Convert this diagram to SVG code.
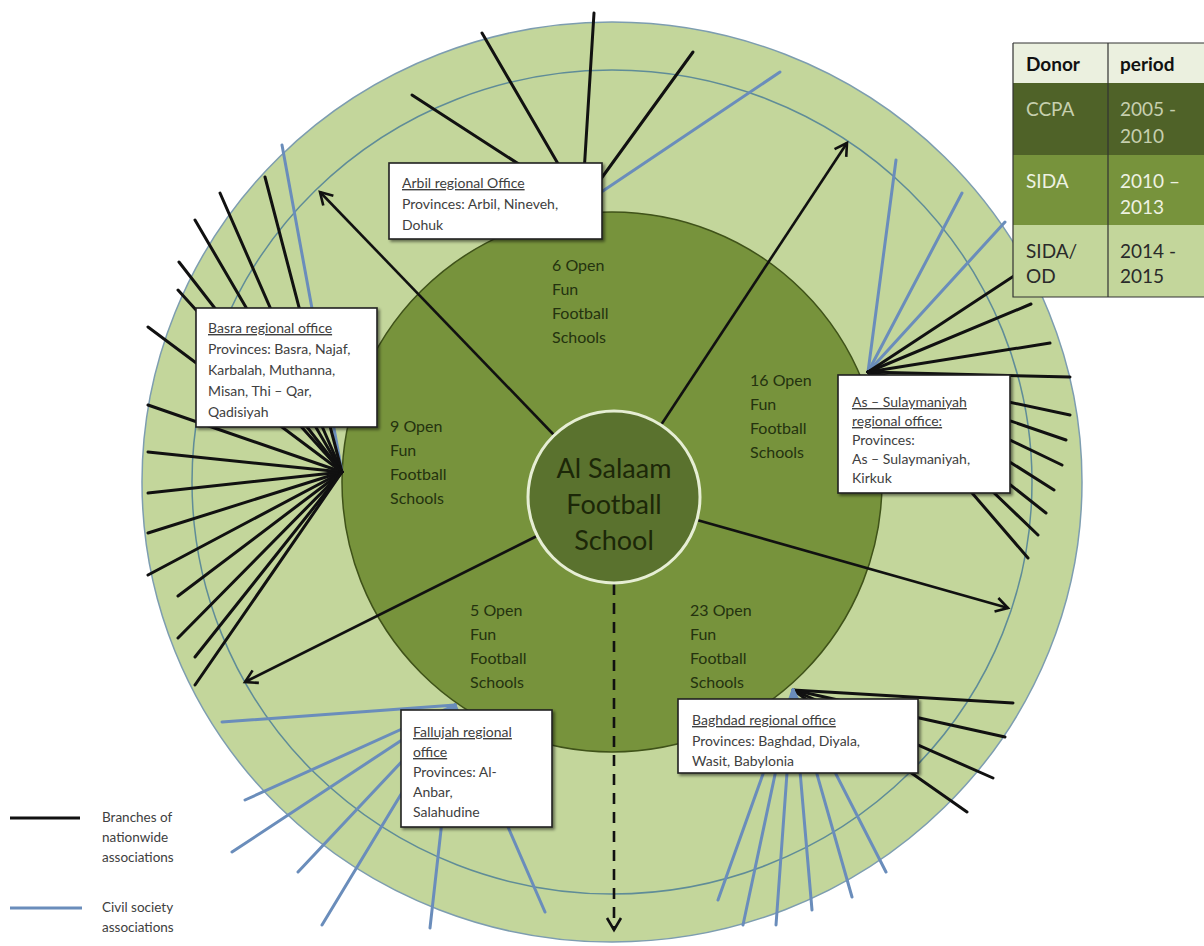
<svg xmlns="http://www.w3.org/2000/svg" width="1204" height="946" viewBox="0 0 1204 946">
<defs>
<marker id="ah" markerUnits="userSpaceOnUse" markerWidth="18" markerHeight="18" viewBox="0 0 18 18" refX="15" refY="9" orient="auto">
<path d="M3,2 L15,9 L3,16" fill="none" stroke="#111" stroke-width="2.6"/>
</marker>
<filter id="sh" x="-10%" y="-10%" width="130%" height="130%">
<feGaussianBlur in="SourceAlpha" stdDeviation="1.5"/>
<feOffset dx="2" dy="2"/>
<feComponentTransfer><feFuncA type="linear" slope="0.5"/></feComponentTransfer>
<feMerge><feMergeNode/><feMergeNode in="SourceGraphic"/></feMerge>
</filter>
</defs>
<style>
text{font-family:Lato,"Liberation Sans",sans-serif}
.bl{stroke:#111;stroke-width:3;fill:none;stroke-linecap:round}
.bu{stroke:#6a8dbb;stroke-width:3;fill:none;stroke-linecap:round}
.arr{stroke:#111;stroke-width:2.6;fill:none}
.box{fill:#fff;stroke:#222;stroke-width:1.6}
.bt{font-size:14px;fill:#404040}
.u{text-decoration:underline}
.seg{font-size:16px;fill:#24320f}
.tb{font-size:19px}
</style>
<rect width="1204" height="946" fill="#fff"/>
<g id="rings">
<ellipse cx="612" cy="482" rx="470" ry="460" fill="#c3d69b" stroke="#7d9db0" stroke-width="1.5"/>
<ellipse cx="612" cy="482" rx="420" ry="412" fill="none" stroke="#5f8c98" stroke-width="1.5"/>
<circle cx="612" cy="482" r="270" fill="#77933c" stroke="#3f5219" stroke-width="1.5"/>
</g>
<g id="connectors">
<g id="fan-arbil">
<line class="bl" x1="582" y1="205" x2="412" y2="95"/>
<line class="bl" x1="582" y1="205" x2="482" y2="33"/>
<line class="bl" x1="582" y1="205" x2="594" y2="13"/>
<line class="bl" x1="582" y1="205" x2="693" y2="52"/>
<line class="bu" x1="582" y1="205" x2="780" y2="72"/>
</g>
<g id="fan-basra">
<line class="bu" x1="342" y1="472" x2="282" y2="145"/>
<line class="bl" x1="342" y1="472" x2="265" y2="177"/>
<line class="bl" x1="342" y1="472" x2="220" y2="193"/>
<line class="bl" x1="342" y1="472" x2="195" y2="220"/>
<line class="bl" x1="342" y1="472" x2="179" y2="262"/>
<line class="bl" x1="342" y1="472" x2="178" y2="290"/>
<line class="bl" x1="342" y1="472" x2="148" y2="327"/>
<line class="bl" x1="342" y1="472" x2="148" y2="405"/>
<line class="bl" x1="342" y1="472" x2="148" y2="452"/>
<line class="bl" x1="342" y1="472" x2="148" y2="493"/>
<line class="bl" x1="342" y1="472" x2="148" y2="533"/>
<line class="bl" x1="342" y1="472" x2="148" y2="575"/>
<line class="bl" x1="342" y1="472" x2="178" y2="596"/>
<line class="bl" x1="342" y1="472" x2="178" y2="638"/>
<line class="bl" x1="342" y1="472" x2="195" y2="657"/>
<line class="bl" x1="342" y1="472" x2="195" y2="685"/>
</g>
<g id="fan-sulay">
<line class="bu" x1="868" y1="372" x2="896" y2="160"/>
<line class="bu" x1="868" y1="372" x2="962" y2="193"/>
<line class="bu" x1="868" y1="372" x2="1005" y2="222"/>
<line class="bl" x1="868" y1="372" x2="1020" y2="272"/>
<line class="bl" x1="868" y1="372" x2="1031" y2="304"/>
<line class="bl" x1="868" y1="372" x2="1050" y2="343"/>
<line class="bl" x1="868" y1="372" x2="1070" y2="377"/>
<line class="bl" x1="868" y1="372" x2="1070" y2="415"/>
<line class="bl" x1="868" y1="372" x2="1066" y2="440"/>
<line class="bl" x1="868" y1="372" x2="1062" y2="465"/>
<line class="bl" x1="868" y1="372" x2="1054" y2="490"/>
<line class="bl" x1="868" y1="372" x2="1046" y2="513"/>
<line class="bl" x1="868" y1="372" x2="1038" y2="535"/>
<line class="bl" x1="868" y1="372" x2="1028" y2="558"/>
</g>
<g id="fan-baghdad">
<line class="bl" x1="793" y1="690" x2="1013" y2="703"/>
<line class="bl" x1="793" y1="690" x2="1005" y2="737"/>
<line class="bl" x1="793" y1="690" x2="993" y2="778"/>
<line class="bl" x1="793" y1="690" x2="967" y2="812"/>
<line class="bu" x1="793" y1="690" x2="718" y2="900"/>
<line class="bu" x1="793" y1="690" x2="743" y2="925"/>
<line class="bu" x1="793" y1="690" x2="776" y2="925"/>
<line class="bu" x1="793" y1="690" x2="812" y2="910"/>
<line class="bu" x1="793" y1="690" x2="852" y2="897"/>
<line class="bu" x1="793" y1="690" x2="886" y2="872"/>
</g>
<g id="fan-fallujah">
<line class="bu" x1="455" y1="705" x2="222" y2="722"/>
<line class="bu" x1="455" y1="705" x2="245" y2="800"/>
<line class="bu" x1="455" y1="705" x2="232" y2="852"/>
<line class="bu" x1="455" y1="705" x2="298" y2="872"/>
<line class="bu" x1="455" y1="705" x2="322" y2="925"/>
<line class="bu" x1="455" y1="705" x2="430" y2="928"/>
<line class="bu" x1="455" y1="705" x2="545" y2="912"/>
</g>
<g id="arrows">
<line class="arr" x1="554" y1="435" x2="320" y2="192" marker-end="url(#ah)"/>
<line class="arr" x1="661" y1="425" x2="847" y2="143" marker-end="url(#ah)"/>
<line class="arr" x1="697" y1="520" x2="1008" y2="608" marker-end="url(#ah)"/>
<line class="arr" x1="537" y1="536" x2="245" y2="682" marker-end="url(#ah)"/>
<line class="arr" x1="614" y1="584" x2="614" y2="930" stroke-dasharray="11 8" marker-end="url(#ah)"/>
</g>
</g>
<g id="center">
<circle cx="614" cy="497" r="86" fill="#5a722e" stroke="#e6eed4" stroke-width="3"/>
<text x="614" y="478" text-anchor="middle" font-size="27" fill="#1c2708">Al Salaam</text>
<text x="614" y="514" text-anchor="middle" font-size="27" fill="#1c2708">Football</text>
<text x="614" y="550" text-anchor="middle" font-size="27" fill="#1c2708">School</text>
</g>
<g id="seg-top"><text class="seg" x="552" y="271">6 Open</text><text class="seg" x="552" y="295">Fun</text><text class="seg" x="552" y="319">Football</text><text class="seg" x="552" y="343">Schools</text></g>
<g id="seg-right"><text class="seg" x="750" y="386">16 Open</text><text class="seg" x="750" y="410">Fun</text><text class="seg" x="750" y="434">Football</text><text class="seg" x="750" y="458">Schools</text></g>
<g id="seg-left"><text class="seg" x="390" y="432">9 Open</text><text class="seg" x="390" y="456">Fun</text><text class="seg" x="390" y="480">Football</text><text class="seg" x="390" y="504">Schools</text></g>
<g id="seg-bl"><text class="seg" x="470" y="616">5 Open</text><text class="seg" x="470" y="640">Fun</text><text class="seg" x="470" y="664">Football</text><text class="seg" x="470" y="688">Schools</text></g>
<g id="seg-br"><text class="seg" x="690" y="616">23 Open</text><text class="seg" x="690" y="640">Fun</text><text class="seg" x="690" y="664">Football</text><text class="seg" x="690" y="688">Schools</text></g>
<g id="box-arbil">
<rect class="box" x="389" y="163" width="213" height="76" filter="url(#sh)"/>
<text class="bt u" x="402" y="188">Arbil regional Office</text>
<text class="bt" x="402" y="209">Provinces: Arbil, Nineveh,</text>
<text class="bt" x="402" y="230">Dohuk</text>
</g>
<g id="box-basra">
<rect class="box" x="196" y="308" width="181" height="119" filter="url(#sh)"/>
<text class="bt u" x="208" y="333">Basra regional office</text>
<text class="bt" x="208" y="354">Provinces: Basra, Najaf,</text>
<text class="bt" x="208" y="375">Karbalah, Muthanna,</text>
<text class="bt" x="208" y="396">Misan, Thi – Qar,</text>
<text class="bt" x="208" y="417">Qadisiyah</text>
</g>
<g id="box-sulay">
<rect class="box" x="838" y="375" width="172" height="118" filter="url(#sh)"/>
<text class="bt u" x="852" y="407">As – Sulaymaniyah</text>
<text class="bt u" x="852" y="426">regional office:</text>
<text class="bt" x="852" y="445">Provinces:</text>
<text class="bt" x="852" y="464">As – Sulaymaniyah,</text>
<text class="bt" x="852" y="483">Kirkuk</text>
</g>
<g id="box-fallujah">
<rect class="box" x="401" y="710" width="151" height="117" filter="url(#sh)"/>
<text class="bt u" x="413" y="737">Fallujah regional</text>
<text class="bt u" x="413" y="757">office</text>
<text class="bt" x="413" y="777">Provinces: Al-</text>
<text class="bt" x="413" y="797">Anbar,</text>
<text class="bt" x="413" y="817">Salahudine</text>
</g>
<g id="box-baghdad">
<rect class="box" x="678" y="699" width="240" height="74" filter="url(#sh)"/>
<text class="bt u" x="692" y="725">Baghdad regional office</text>
<text class="bt" x="692" y="746">Provinces: Baghdad, Diyala,</text>
<text class="bt" x="692" y="766">Wasit, Babylonia</text>
</g>
<g id="table">
<rect x="1013" y="43" width="191" height="40" fill="#ebf0df"/>
<rect x="1013" y="83" width="191" height="72" fill="#4f6228"/>
<rect x="1013" y="155" width="191" height="70" fill="#77933c"/>
<rect x="1013" y="225" width="191" height="72" fill="#c3d69b"/>
<path d="M1013,43 V297 H1204 M1108,43 V297 M1013,43 H1204" fill="none" stroke="#333" stroke-width="1.2"/>
<text class="tb" x="1026" y="71" font-weight="bold" fill="#111">Donor</text>
<text class="tb" x="1120" y="71" font-weight="bold" fill="#111">period</text>
<text class="tb" x="1026" y="116" fill="#c6cfae">CCPA</text>
<text class="tb" x="1120" y="116" fill="#c6cfae">2005 -</text>
<text class="tb" x="1120" y="143" fill="#c6cfae">2010</text>
<text class="tb" x="1026" y="188" fill="#eef2e2">SIDA</text>
<text class="tb" x="1120" y="188" fill="#eef2e2">2010 –</text>
<text class="tb" x="1120" y="214" fill="#eef2e2">2013</text>
<text class="tb" x="1026" y="258" fill="#2a2a2a">SIDA/</text>
<text class="tb" x="1026" y="283" fill="#2a2a2a">OD</text>
<text class="tb" x="1120" y="258" fill="#2a2a2a">2014 -</text>
<text class="tb" x="1120" y="283" fill="#2a2a2a">2015</text>
</g>
<g id="legend">
<line x1="10" y1="818" x2="80" y2="818" stroke="#111" stroke-width="3"/>
<text x="102" y="822" font-size="13.5" fill="#404040">Branches of</text>
<text x="102" y="842" font-size="13.5" fill="#404040">nationwide</text>
<text x="102" y="862" font-size="13.5" fill="#404040">associations</text>
<line x1="10" y1="908" x2="82" y2="908" stroke="#6a8dbb" stroke-width="3"/>
<text x="102" y="912" font-size="13.5" fill="#404040">Civil society</text>
<text x="102" y="932" font-size="13.5" fill="#404040">associations</text>
</g>
</svg>
